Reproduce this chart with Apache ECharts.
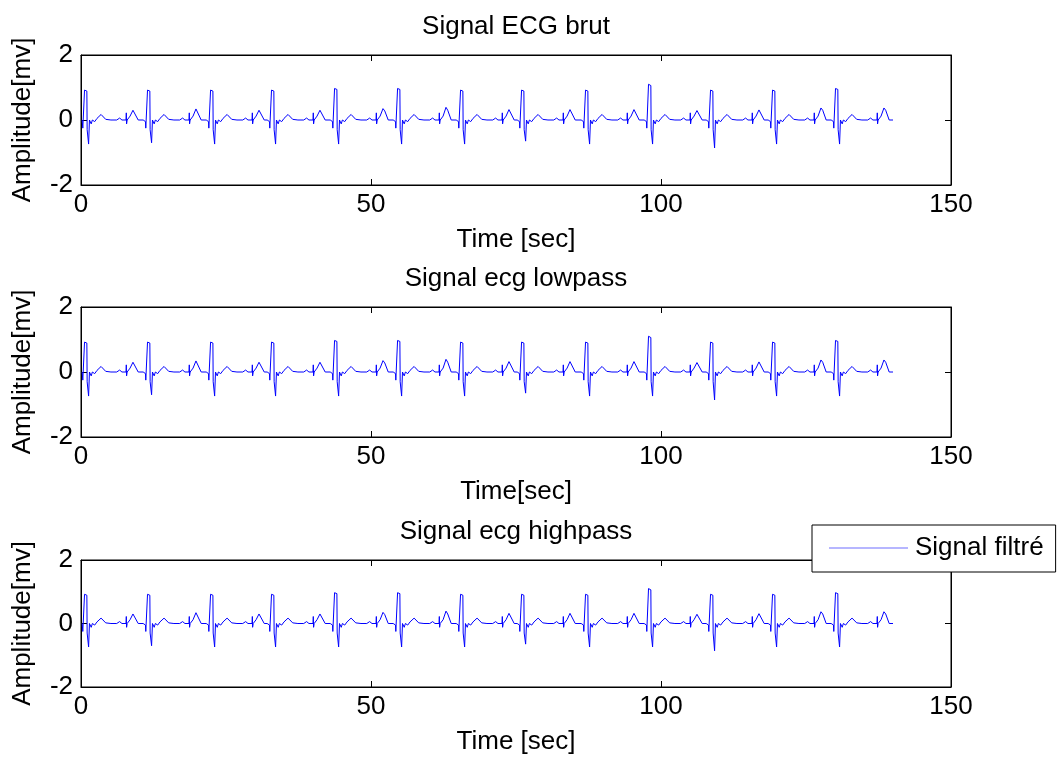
<!DOCTYPE html>
<html>
<head>
<meta charset="utf-8">
<title>Signal ECG</title>
<script src="https://cdn.jsdelivr.net/npm/echarts@6/dist/echarts.min.js"></script>
<style>
  html, body { margin: 0; padding: 0; background: #fff; }
  #chart { width: 1059px; height: 758px; }
</style>
</head>
<body>
<div id="chart"></div>
<script>
// ECG trace, [time (s), amplitude (mV)], one line per heartbeat
const ecgSignal = [
  [0.2,0],[0.26,-0.05],[0.31,-0.25],[0.56,-0.22],[0.61,0.92],[1.01,0.89],[1.06,-0.3],[1.26,-0.3],[1.31,-0.74],[1.46,0],[1.76,-0.12],[1.96,0],[2.36,-0.05],[2.76,0.05],[3.46,0.17],[4.26,0.02],[5.16,0],[6.16,0],[6.66,0.06],[7.06,0],[7.76,0],[7.81,0.22],[7.86,-0.12],[7.96,0],[8.46,0.12],[8.96,0.30],[9.26,0.24],[9.86,0],
  [10.72,0],[11.12,-0.05],[11.17,-0.25],[11.42,-0.22],[11.47,0.92],[11.87,0.89],[11.92,-0.3],[12.12,-0.3],[12.17,-0.7],[12.32,0],[12.62,-0.12],[12.82,0],[13.22,-0.05],[13.62,0.05],[14.32,0.17],[15.12,0.02],[16.02,0],[17.02,0],[17.52,0.06],[17.92,0],[18.62,0],[18.67,0.22],[18.72,-0.12],[18.82,0],[19.32,0.12],[19.82,0.34],[20.12,0.28],[20.72,0],
  [21.59,0],[21.99,-0.05],[22.04,-0.25],[22.29,-0.22],[22.34,0.92],[22.74,0.89],[22.79,-0.3],[22.99,-0.3],[23.04,-0.74],[23.19,0],[23.49,-0.12],[23.69,0],[24.09,-0.05],[24.49,0.05],[25.19,0.17],[25.99,0.02],[26.89,0],[27.89,0],[28.39,0.06],[28.79,0],[29.49,0],[29.54,0.22],[29.59,-0.12],[29.69,0],[30.19,0.12],[30.69,0.30],[30.99,0.24],[31.59,0],
  [32.10,0],[32.50,-0.05],[32.55,-0.25],[32.80,-0.22],[32.85,0.92],[33.25,0.89],[33.30,-0.3],[33.50,-0.3],[33.55,-0.74],[33.70,0],[34.00,-0.12],[34.20,0],[34.60,-0.05],[35.00,0.05],[35.70,0.17],[36.50,0.02],[37.40,0],[38.40,0],[38.90,0.06],[39.30,0],[40.00,0],[40.05,0.22],[40.10,-0.12],[40.20,0],[40.70,0.12],[41.20,0.30],[41.50,0.24],[42.10,0],
  [42.97,0],[43.37,-0.05],[43.42,-0.25],[43.67,-0.22],[43.72,0.97],[44.12,0.94],[44.17,-0.3],[44.37,-0.3],[44.42,-0.74],[44.57,0],[44.87,-0.12],[45.07,0],[45.47,-0.05],[45.87,0.05],[46.57,0.17],[47.37,0.02],[48.27,0],[49.27,0],[49.77,0.06],[50.17,0],[50.87,0],[50.92,0.22],[50.97,-0.12],[51.07,0],[51.57,0.12],[52.07,0.35],[52.37,0.28],[52.97,0],
  [53.83,0],[54.23,-0.05],[54.28,-0.25],[54.53,-0.22],[54.58,0.97],[54.98,0.94],[55.03,-0.3],[55.23,-0.3],[55.28,-0.74],[55.43,0],[55.73,-0.12],[55.93,0],[56.33,-0.05],[56.73,0.05],[57.43,0.17],[58.23,0.02],[59.13,0],[60.13,0],[60.63,0.06],[61.03,0],[61.73,0],[61.78,0.22],[61.83,-0.12],[61.93,0],[62.43,0.12],[62.93,0.39],[63.23,0.30],[63.83,0],
  [64.69,0],[65.09,-0.05],[65.14,-0.25],[65.39,-0.22],[65.44,0.92],[65.84,0.89],[65.89,-0.3],[66.09,-0.3],[66.14,-0.74],[66.29,0],[66.59,-0.12],[66.79,0],[67.19,-0.05],[67.59,0.05],[68.29,0.17],[69.09,0.02],[69.99,0],[70.99,0],[71.49,0.06],[71.89,0],[72.59,0],[72.64,0.22],[72.69,-0.12],[72.79,0],[73.29,0.12],[73.79,0.32],[74.09,0.26],[74.69,0],
  [75.21,0],[75.61,-0.05],[75.66,-0.25],[75.91,-0.22],[75.96,0.92],[76.36,0.89],[76.41,-0.3],[76.61,-0.3],[76.66,-0.65],[76.81,0],[77.11,-0.12],[77.31,0],[77.71,-0.05],[78.11,0.05],[78.81,0.17],[79.61,0.02],[80.51,0],[81.51,0],[82.01,0.06],[82.41,0],[83.11,0],[83.16,0.22],[83.21,-0.12],[83.31,0],[83.81,0.12],[84.31,0.32],[84.61,0.26],[85.21,0],
  [86.24,0],[86.64,-0.05],[86.69,-0.25],[86.94,-0.22],[86.99,0.92],[87.39,0.89],[87.44,-0.3],[87.64,-0.3],[87.69,-0.74],[87.84,0],[88.14,-0.12],[88.34,0],[88.74,-0.05],[89.14,0.05],[89.84,0.17],[90.64,0.02],[91.54,0],[92.54,0],[93.04,0.06],[93.44,0],[94.14,0],[94.19,0.22],[94.24,-0.12],[94.34,0],[94.84,0.12],[95.34,0.32],[95.64,0.26],[96.24,0],
  [97.10,0],[97.50,-0.05],[97.55,-0.25],[97.80,-0.22],[97.85,1.10],[98.25,1.06],[98.30,-0.3],[98.50,-0.3],[98.55,-0.74],[98.70,0],[99.00,-0.12],[99.20,0],[99.60,-0.05],[100.00,0.05],[100.70,0.17],[101.50,0.02],[102.40,0],[103.40,0],[103.90,0.06],[104.30,0],[105.00,0],[105.05,0.22],[105.10,-0.12],[105.20,0],[105.70,0.12],[106.20,0.29],[106.50,0.24],[107.10,0],
  [107.79,0],[108.19,-0.05],[108.24,-0.25],[108.49,-0.22],[108.54,0.92],[108.94,0.89],[108.99,-0.3],[109.19,-0.3],[109.24,-0.86],[109.39,0],[109.69,-0.12],[109.89,0],[110.29,-0.05],[110.69,0.05],[111.39,0.17],[112.19,0.02],[113.09,0],[114.09,0],[114.59,0.06],[114.99,0],[115.69,0],[115.74,0.22],[115.79,-0.12],[115.89,0],[116.39,0.12],[116.89,0.31],[117.19,0.25],[117.79,0],
  [118.48,0],[118.88,-0.05],[118.93,-0.25],[119.18,-0.22],[119.23,0.92],[119.63,0.89],[119.68,-0.3],[119.88,-0.3],[119.93,-0.74],[120.08,0],[120.38,-0.12],[120.58,0],[120.98,-0.05],[121.38,0.05],[122.08,0.17],[122.88,0.02],[123.78,0],[124.78,0],[125.28,0.06],[125.68,0],[126.38,0],[126.43,0.22],[126.48,-0.12],[126.58,0],[127.08,0.12],[127.58,0.37],[127.88,0.30],[128.48,0],
  [129.34,0],[129.74,-0.05],[129.79,-0.25],[130.04,-0.22],[130.09,0.97],[130.49,0.94],[130.54,-0.3],[130.74,-0.3],[130.79,-0.74],[130.94,0],[131.24,-0.12],[131.44,0],[131.84,-0.05],[132.24,0.05],[132.94,0.17],[133.74,0.02],[134.64,0],[135.64,0],[136.14,0.06],[136.54,0],[137.24,0],[137.29,0.22],[137.34,-0.12],[137.44,0],[137.94,0.12],[138.44,0.37],[138.74,0.30],[139.34,0],[140.0,0]
];

const panelTitles = ['Signal ECG brut', 'Signal ecg lowpass', 'Signal ecg highpass'];
const xAxisNames = ['Time [sec]', 'Time[sec]', 'Time [sec]'];
const yAxisName = 'Amplitude[mv]';
const xRange = [0, 150, 50];   // min, max, step
const yRange = [-2, 2, 2];
const legendLabel = 'Signal filtré';

// subplot boxes: [top, height]
const panels = [[55, 130], [307, 130], [560, 127]];
const plotLeft = 81, plotWidth = 870;

const FONT = 'Liberation Sans, Arial, sans-serif';
const FS = 26;

const grid = [], xAxis = [], yAxis = [], title = [], series = [];
panels.forEach(([top, height], i) => {
  grid.push({ left: plotLeft, top: top, width: plotWidth, height: height,
              show: true, borderColor: '#000', borderWidth: 1, backgroundColor: '#fff' });
  title.push({ text: panelTitles[i], left: plotLeft + plotWidth / 2, textAlign: 'center',
               top: top - 41, padding: 0,
               textStyle: { fontFamily: FONT, fontSize: FS, fontWeight: 'normal', color: '#000' } });
  const tick = { show: true, inside: true, length: 6, lineStyle: { color: '#000', width: 1 } };
  // bottom axis with labels, top axis with ticks only
  xAxis.push({ gridIndex: i, type: 'value', position: 'bottom', min: xRange[0], max: xRange[1], interval: xRange[2],
               name: xAxisNames[i], nameLocation: 'middle', nameGap: 42,
               nameTextStyle: { fontFamily: FONT, fontSize: FS, color: '#000' },
               axisLine: { show: true, onZero: false, lineStyle: { color: '#000', width: 1 } },
               axisTick: tick, splitLine: { show: false },
               axisLabel: { fontFamily: FONT, fontSize: FS, color: '#000', margin: 7 } });
  xAxis.push({ gridIndex: i, type: 'value', position: 'top', min: xRange[0], max: xRange[1], interval: xRange[2],
               axisLine: { show: true, onZero: false, lineStyle: { color: '#000', width: 1 } },
               axisTick: tick, splitLine: { show: false }, axisLabel: { show: false } });
  // left axis with labels, right axis with ticks only
  yAxis.push({ gridIndex: i, type: 'value', position: 'left', min: yRange[0], max: yRange[1], interval: yRange[2],
               name: yAxisName, nameLocation: 'middle', nameGap: 45, nameRotate: 90,
               nameTextStyle: { fontFamily: FONT, fontSize: FS, color: '#000' },
               axisLine: { show: true, onZero: false, lineStyle: { color: '#000', width: 1 } },
               axisTick: tick, splitLine: { show: false },
               axisLabel: { fontFamily: FONT, fontSize: FS, color: '#000', margin: 8 } });
  yAxis.push({ gridIndex: i, type: 'value', position: 'right', min: yRange[0], max: yRange[1], interval: yRange[2],
               axisLine: { show: true, onZero: false, lineStyle: { color: '#000', width: 1 } },
               axisTick: tick, splitLine: { show: false }, axisLabel: { show: false } });
  series.push({ name: i === 2 ? legendLabel : panelTitles[i], type: 'line',
                xAxisIndex: 2 * i, yAxisIndex: 2 * i, data: ecgSignal,
                showSymbol: false, symbol: 'none', sampling: null,
                lineStyle: { color: '#0000ff', width: 1 }, itemStyle: { color: '#0000ff' } });
});

const chart = echarts.init(document.getElementById('chart'), null, { renderer: 'canvas' });
chart.setOption({
  animation: false,
  backgroundColor: '#fff',
  title, grid, xAxis, yAxis, series,
  legend: {
    data: [{ name: legendLabel, icon: 'rect' }], left: 812, top: 525, orient: 'vertical',
    backgroundColor: '#fff', borderColor: '#000', borderWidth: 1,
    padding: [10, 12, 11, 17], itemWidth: 79, itemHeight: 1, itemGap: 0,
    itemStyle: { color: '#6f6fff' },
    textStyle: { fontFamily: FONT, fontSize: FS, color: '#000', padding: [0, 0, 0, 2] }
  }
});
</script>
</body>
</html>
